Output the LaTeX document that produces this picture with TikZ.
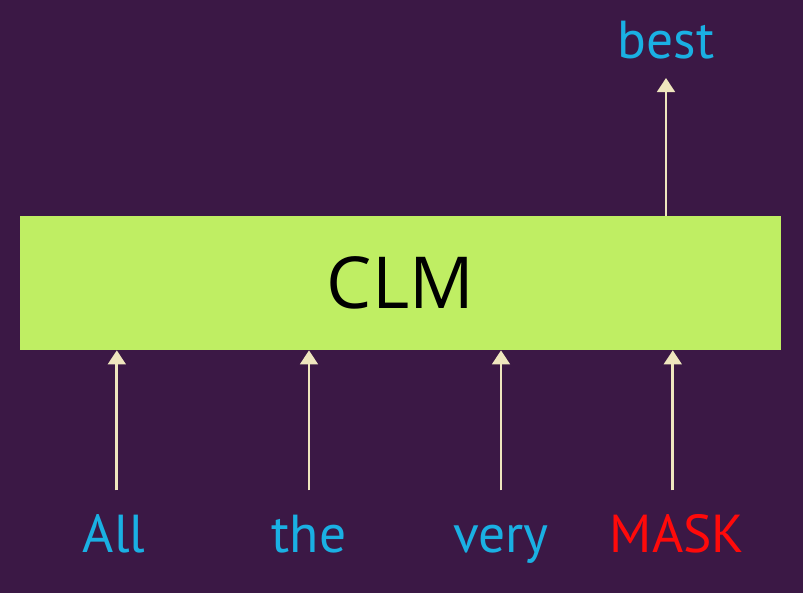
\documentclass[tikz,border=0pt]{standalone}
\usepackage{fontspec}
\setmainfont{PT Sans}
\newfontfamily\clmfont{Open Sans}
\usetikzlibrary{arrows.meta}
\definecolor{bgpurple}{HTML}{3B1845}
\definecolor{clmgreen}{HTML}{BFEE63}
\definecolor{arrowcream}{HTML}{EFE6BE}
\definecolor{wordblue}{HTML}{1AB0E3}
\definecolor{maskred}{HTML}{FF0A0A}

\begin{document}
\begin{tikzpicture}[x=0.025cm, y=-0.025cm,
	word/.style={text=wordblue, font=\fontsize{38}{46}\selectfont, anchor=base, inner sep=0pt, text height=28pt, text depth=8.5pt},
	model/.style={fill=clmgreen, minimum width=19.025cm, minimum height=3.35cm, inner sep=0pt, font=\clmfont\fontsize{51}{60}\selectfont},
	arrow/.style={draw=arrowcream, line width=2.1pt, -{Triangle[width=12.5pt,length=10pt]}}
]
\fill[bgpurple] (0,0) rectangle (803,593);
\useasboundingbox (0,0) rectangle (803,593);

% model block
\node[model] (clm) at (400.5,283) {CLM};

% input tokens
\node[word] (all) at (114,552) {All};
\node[word] (the) at (309,552) {the};
\node[word] (very) at (501,552) {very};
\node[word, text=maskred] (mask) at (677,552) {MASK};

% output token
\node[word] (best) at (666,58) {best};

\draw[arrow] ([xshift=2pt]all.north) ++(0,-22) -- ([xshift=2pt]all.north |- clm.south);
\draw[arrow] (the.north) ++(0,-22) -- (the.north |- clm.south);
\draw[arrow] (very.north) ++(0,-22) -- (very.north |- clm.south);
\draw[arrow] ([xshift=-3pt]mask.north) ++(0,-22) -- ([xshift=-3pt]mask.north |- clm.south);
\draw[arrow] (best.south |- clm.north) -- ([yshift=-5.5pt]best.south);
\end{tikzpicture}
\end{document}
